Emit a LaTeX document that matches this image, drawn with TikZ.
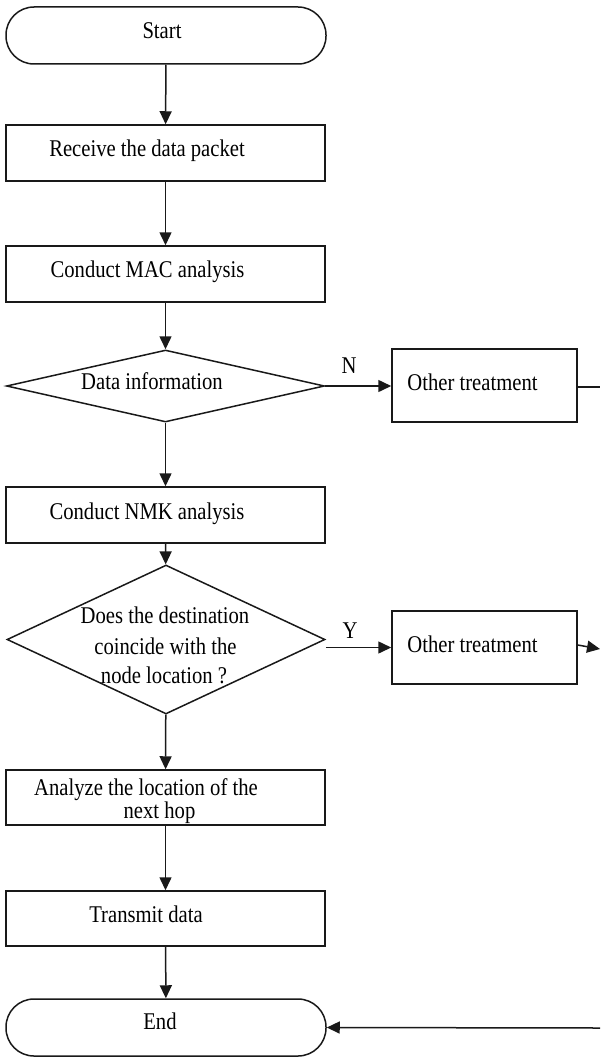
\documentclass[tikz,border=0pt]{standalone}
\usepackage{fontspec}
\setmainfont{Liberation Serif}[FakeStretch=0.86]
\usetikzlibrary{arrows.meta,shapes.geometric}
\begin{document}
\begin{tikzpicture}[x=1pt,y=-1pt,
  every node/.style={font=\fontsize{24}{28}\selectfont},
  shp/.style={draw=black!90,line width=1.5pt,inner sep=0pt},
  boxr/.style={shp,rectangle,minimum width=319pt,minimum height=56pt},
  obox/.style={shp,rectangle,minimum width=185pt,minimum height=73pt},
  term/.style={shp,rectangle,rounded corners=28pt,minimum width=320pt,minimum height=57pt},
  dia/.style={shp,diamond,minimum width=318pt},
  txt/.style={anchor=base,inner sep=0pt},
  arr/.style={line width=1.5pt,draw=black!90,-{Triangle[length=13pt,width=12pt]}},
  ln/.style={line width=1.5pt,draw=black!90}]
\useasboundingbox (0,0) rectangle (600,1057);
% shapes
\node[term] (start) at (166,35.5) {};
\node[boxr] (recv) at (165.5,153) {};
\node[boxr] (mac) at (165.5,274) {};
\node[dia,minimum height=72pt] (d1) at (165.5,386) {};
\node[obox] (o1) at (484.5,385.5) {};
\node[boxr] (nmk) at (165.5,515) {};
\node[dia,minimum height=149pt] (d2) at (166,639.5) {};
\node[obox] (o2) at (484.5,647.5) {};
\node[boxr,minimum height=55pt] (ana) at (165.5,797.5) {};
\node[boxr,minimum height=55pt] (tx) at (165.5,918.5) {};
\node[term] (end) at (166,1027.5) {};
% texts
\node[txt] (tstart) at (162,39) {Start};
\node[txt] (trecv) at (147,156) {Receive the data packet};
\node[txt] (tmac) at (147.5,277) {Conduct MAC analysis};
\node[txt] (td1) at (152,389) {Data information};
\node[txt] (tN) at (349,373) {N};
\node[txt] (to1) at (472.5,390) {Other treatment};
\node[txt] (tnmk) at (147,519) {Conduct NMK analysis};
\node[txt] (td2a) at (165,623) {Does the destination};
\node[txt] (td2b) at (165.5,654) {coincide with the};
\node[txt] (td2c) at (164,683) {node location ?};
\node[txt] (tY) at (350,638) {Y};
\node[txt] (to2) at (472.5,652) {Other treatment};
\node[txt] (tanaa) at (146,795) {Analyze the location of the};
\node[txt] (tanab) at (159.5,818) {next hop};
\node[txt] (ttx) at (146,922) {Transmit data};
\node[txt] (tend) at (160,1029) {End};
% free ends
\coordinate (r1) at (600,387);
\coordinate (r2) at (600,649);
\coordinate (r3) at (600,1028);
% connectors
\draw[arr] (start) -- (recv);
\draw[arr] (recv) -- (mac);
\draw[arr] (mac) -- (d1);
\draw[arr] (d1.east) -- (o1.west |- d1.east);
\draw[arr] (d1) -- (nmk);
\draw[arr] (nmk) -- (d2);
\draw[arr] (d2.east |- o2.west) -- (o2.west);
\draw[arr] (d2) -- (ana);
\draw[arr] (ana) -- (tx);
\draw[arr] (tx) -- (end);
\draw[ln] (o1.east |- r1) -- (r1);
\draw[arr] ([yshift=2.5pt]o2.east) -- (r2);
\draw[arr] (r3) -- (end.east);
\end{tikzpicture}
\end{document}
